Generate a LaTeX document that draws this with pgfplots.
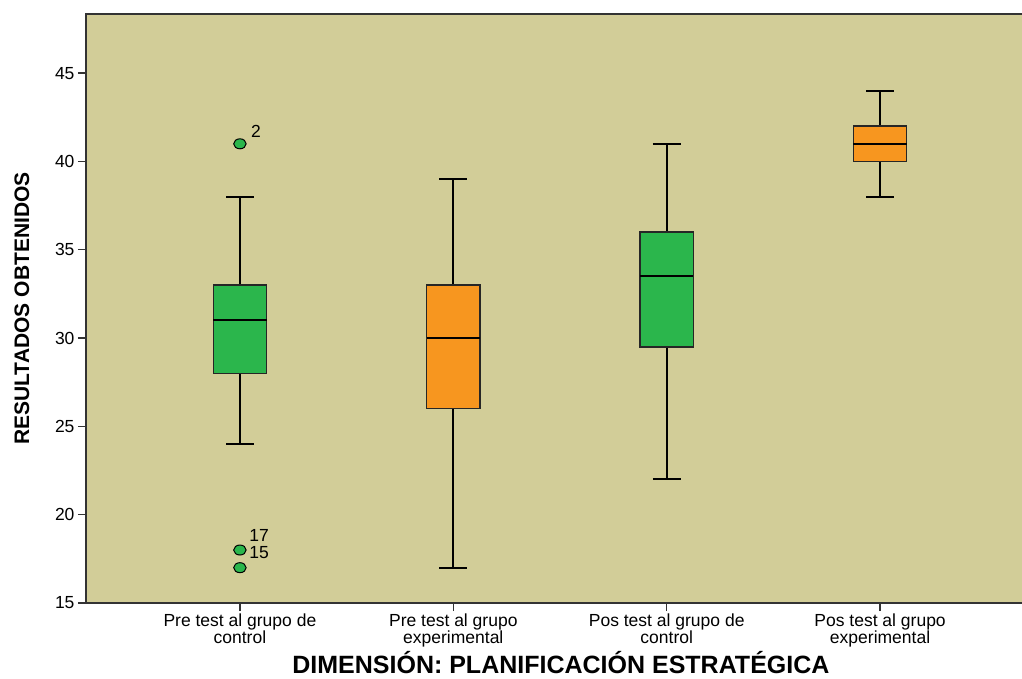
\documentclass[border=0pt]{standalone}
\usepackage{pgfplots}
\pgfplotsset{compat=1.18}
\usepgfplotslibrary{statistics}
\usepackage{fontspec}
\setmainfont{Liberation Sans}
\definecolor{bg}{RGB}{210,205,152}
\definecolor{grn}{RGB}{43,182,76}
\definecolor{org}{RGB}{247,150,31}
\begin{document}
\begin{tikzpicture}[x=1pt,y=1pt]
\useasboundingbox (0,0) rectangle (1022,678);
\begin{axis}[
  at={(86pt,75pt)}, anchor=south west,
  scale only axis, width=946pt, height=589pt,
  xmin=0.2787, xmax=4.712, ymin=15, ymax=48.35,
  axis background/.style={fill=bg},
  axis line style={draw=black!80, line width=1.4pt},
  xtick={1,2,3,4},
  xticklabels={{Pre test al grupo de\\control},{Pre test al grupo\\experimental},{Pos test al grupo de\\control},{Pos test al grupo\\experimental}},
  xticklabel style={align=center, font=\fontsize{17.5}{14.5}\selectfont, yshift=1pt},
  ytick={15,20,25,30,35,40,45},
  yticklabel style={font=\fontsize{17.5}{17.5}\selectfont},
  /pgf/number format/assume math mode=true,
  tick align=outside, major tick length=8pt,
  tick style={draw=black!80, line width=1.4pt},
  xtick pos=bottom, ytick pos=left,
  ylabel={\bfseries RESULTADOS OBTENIDOS},
  ylabel style={font=\fontsize{21}{21}\selectfont, at={(axis description cs:-0.0677,0.5)}, anchor=center},
  xlabel={\bfseries DIMENSIÓN: PLANIFICACIÓN ESTRATÉGICA},
  xlabel style={font=\fontsize{25}{25}\selectfont, at={(axis description cs:0.502,-0.1205)}, anchor=base},
  boxplot/draw direction=y,
  boxplot/every median/.style={line width=2pt, draw=black},
  boxplot/every whisker/.style={line width=2pt, draw=black},
  boxplot/every box/.style={line width=1.4pt, draw=black!85},
  clip=false,
]
\addplot[fill=grn, draw=black, mark=*, mark size=5pt,
  mark options={fill=grn, draw=black, line width=1pt, xscale=1.25},
  boxplot prepared={lower whisker=24, lower quartile=28, median=31,
    upper quartile=33, upper whisker=38, draw position=1,
    box extend=0.25, whisker extend=0.13}]
  table[row sep=\\, y index=0] {41\\ 18\\ 17\\};
\addplot[fill=org, draw=black,
  boxplot prepared={lower whisker=17, lower quartile=26, median=30,
    upper quartile=33, upper whisker=39, draw position=2,
    box extend=0.25, whisker extend=0.13}]
  coordinates {};
\addplot[fill=grn, draw=black,
  boxplot prepared={lower whisker=22, lower quartile=29.5, median=33.5,
    upper quartile=36, upper whisker=41, draw position=3,
    box extend=0.25, whisker extend=0.13}]
  coordinates {};
\addplot[fill=org, draw=black,
  boxplot prepared={lower whisker=38, lower quartile=40, median=41,
    upper quartile=42, upper whisker=44, draw position=4,
    box extend=0.25, whisker extend=0.13}]
  coordinates {};
\node[font=\fontsize{17.5}{17.5}\selectfont] at (axis cs:1.075,41.73) {2};
\node[font=\fontsize{17.5}{17.5}\selectfont] at (axis cs:1.09,18.85) {17};
\node[font=\fontsize{17.5}{17.5}\selectfont] at (axis cs:1.09,17.83) {15};
\end{axis}
\end{tikzpicture}
\end{document}
